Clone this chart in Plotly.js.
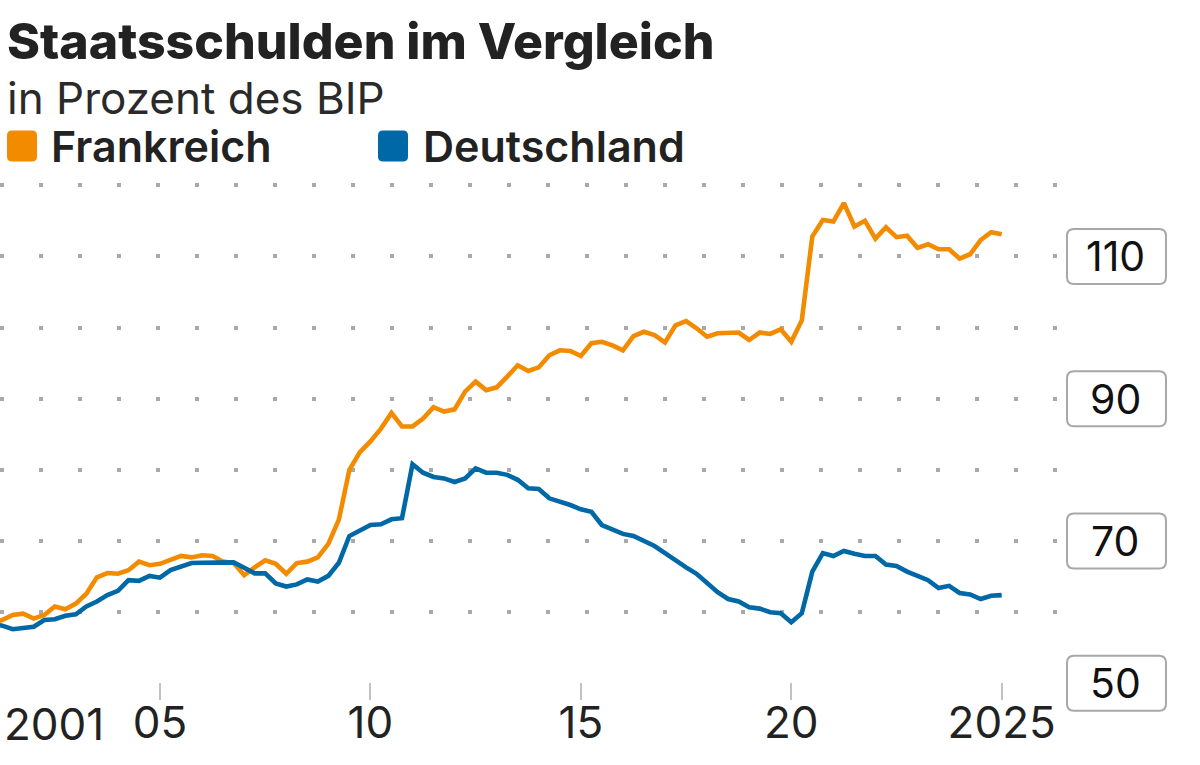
<!DOCTYPE html>
<html>
<head>
<meta charset="utf-8">
<script src="https://cdn.plot.ly/plotly-3.0.1.min.js"></script>
<style>
  html, body { margin: 0; padding: 0; background: #fff; }
  #chart { width: 1200px; height: 765px; }
</style>
</head>
<body>
<div id="chart"></div>
<script>
// ---- Data (quarterly, 2001 Q1 – 2025 Q1), government debt in % of GDP ----
const startYear = 2001;
const frankreich = [
  58.5, 58.9, 59.6, 59.8, 59.1, 59.6, 60.8, 60.4, 61.2, 62.6, 64.9, 65.5,
  65.4, 65.9, 67.1, 66.6, 66.8, 67.4, 67.9, 67.7, 68.0, 67.9, 67.1, 66.9,
  65.2, 66.3, 67.3, 66.8, 65.4, 66.9, 67.1, 67.7, 69.6, 73.0, 80.0, 82.5,
  84.0, 85.8, 88.0, 86.1, 86.1, 87.2, 88.8, 88.2, 88.5, 91.0, 92.4, 91.2,
  91.6, 93.1, 94.7, 93.9, 94.4, 96.1, 96.8, 96.7, 96.0, 97.8, 98.0, 97.5,
  96.8, 98.8, 99.4, 98.95, 97.9, 100.3, 100.9, 99.9, 98.7, 99.2, 99.2, 99.3,
  98.25, 99.3, 99.1, 99.75, 98.0, 101.0, 112.8, 115.1, 114.9, 117.5, 114.2, 115.0,
  112.5, 114.1, 112.7, 112.9, 111.2, 111.7, 111.0, 111.0, 109.7, 110.3, 112.3, 113.4,
  113.1
];
const deutschland = [
  58.4, 58.1, 57.6, 57.7, 57.95, 58.9, 59.0, 59.5, 59.7, 60.8, 61.5, 62.4,
  63.0, 64.5, 64.4, 65.1, 64.85, 65.9, 66.4, 66.9, 66.95, 67.0, 67.0, 67.0,
  66.25, 65.45, 65.45, 64.05, 63.6, 63.9, 64.6, 64.3, 65.1, 66.95, 70.7, 71.45,
  72.25, 72.35, 73.05, 73.2, 80.8, 79.6, 79.0, 78.8, 78.3, 78.8, 80.2, 79.6,
  79.6, 79.3, 78.6, 77.4, 77.3, 76.0, 75.6, 75.06, 74.45, 74.1, 72.25, 71.6,
  71.0, 70.7, 70.0, 69.3, 68.3, 67.2, 66.3, 65.4, 64.05, 62.8, 61.85, 61.5,
  60.7, 60.5, 60.0, 59.84, 58.6, 59.84, 65.7, 68.3, 67.9, 68.6, 68.2, 67.9,
  67.9, 66.7, 66.5, 65.7, 65.1, 64.5, 63.4, 63.7, 62.7, 62.5, 61.85, 62.3,
  62.4
];
// quarter positions on a decimal-year axis
const quarters = frankreich.map((_, i) => startYear + Math.floor(i / 4) + (i % 4) / 4);

const xTickVals = [2005, 2010, 2015, 2020, 2025];
const xTickText = ['05', '10', '15', '20', '2025'];
const firstYearLabel = '2001';
const yGridVals = [60, 70, 80, 90, 100, 110, 120];
const yLabelVals = [50, 70, 90, 110];

const titleText = 'Staatsschulden im Vergleich';
const subtitleText = 'in Prozent des BIP';
const seriesNames = ['Frankreich', 'Deutschland'];
const colors = { Frankreich: '#F28B00', Deutschland: '#0068A7' };

// ---- helpers ----
function roundRect(x0, y0, x1, y1, r) {
  return `M${x0 + r},${y0} L${x1 - r},${y0} Q${x1},${y0} ${x1},${y0 + r} ` +
         `L${x1},${y1 - r} Q${x1},${y1} ${x1 - r},${y1} L${x0 + r},${y1} ` +
         `Q${x0},${y1} ${x0},${y1 - r} L${x0},${y0 + r} Q${x0},${y0} ${x0 + r},${y0} Z`;
}

const FONT = 'Inter, "Noto Sans", sans-serif';

const traces = [
  { x: quarters, y: frankreich, name: 'Frankreich', type: 'scatter', mode: 'lines',
    line: { color: colors.Frankreich, width: 4.6 }, showlegend: false, hoverinfo: 'skip' },
  { x: quarters, y: deutschland, name: 'Deutschland', type: 'scatter', mode: 'lines',
    line: { color: colors.Deutschland, width: 4.6 }, showlegend: false, hoverinfo: 'skip' }
];

const plotTop = 170, plotBottom = 714;
const toPaperY = px => (plotBottom - px) / (plotBottom - plotTop);
const legendY = toPaperY(146);
const subtitleY = toPaperY(98);
const axisPos = toPaperY(700);

const shapes = [];
const annotations = [];

// y label boxes
yLabelVals.forEach(v => {
  shapes.push({
    type: 'path', xref: 'paper', yref: 'y', xsizemode: 'pixel', ysizemode: 'pixel',
    xanchor: 1, yanchor: v, path: roundRect(9, -27.5, 108, 27.5, 7),
    fillcolor: '#ffffff', line: { color: '#a8a8a8', width: 2 }, layer: 'above'
  });
  annotations.push({
    xref: 'paper', yref: 'y', x: 1, y: v, xshift: 57, xanchor: 'center', yanchor: 'middle',
    text: String(v), showarrow: false, font: { family: FONT, size: 41, color: '#111' }
  });
});

// subtitle
annotations.push({
  xref: 'paper', yref: 'paper', x: 0, y: subtitleY, xshift: 5, xanchor: 'left', yanchor: 'middle',
  text: subtitleText, showarrow: false, font: { family: FONT, size: 44, weight: 400, color: '#2a2a2a' }
});

// legend (rounded squares + labels)
const legendSquareX = { Frankreich: 7, Deutschland: 378 };
const legendTextX = { Frankreich: 49, Deutschland: 421 };
seriesNames.forEach(n => {
  const sx = legendSquareX[n];
  shapes.push({
    type: 'path', xref: 'paper', yref: 'paper', xsizemode: 'pixel', ysizemode: 'pixel',
    xanchor: 0, yanchor: legendY, path: roundRect(sx, -15.5, sx + 30, 15.5, 5),
    fillcolor: colors[n], line: { width: 0 }
  });
  annotations.push({
    xref: 'paper', yref: 'paper', x: 0, y: legendY, xshift: legendTextX[n], xanchor: 'left', yanchor: 'middle',
    text: n, showarrow: false, font: { family: FONT, size: 43, weight: 600, color: '#222' }
  });
});

// first-year label at the left edge
annotations.push({
  xref: 'paper', yref: 'paper', x: 0, y: axisPos, xshift: 2, yshift: 5, xanchor: 'left', yanchor: 'top',
  text: firstYearLabel, showarrow: false, font: { family: FONT, size: 44, color: '#222' }
});

const layout = {
  width: 1200, height: 765,
  margin: { l: 0, r: 142, t: plotTop, b: 765 - plotBottom, pad: 0 },
  paper_bgcolor: '#ffffff', plot_bgcolor: '#ffffff',
  font: { family: FONT, color: '#222' },
  title: {
    text: titleText,
    font: { family: FONT, size: 50, weight: 800, color: '#222' },
    xref: 'container', x: 7 / 1200, xanchor: 'left',
    yref: 'container', y: 1 - 24 / 765, yanchor: 'top'
  },
  showlegend: false,
  xaxis: {
    range: [2001.198, 2026.338],
    anchor: 'free', position: axisPos,
    tickvals: xTickVals, ticktext: xTickText,
    ticks: 'inside', ticklen: 17, tickwidth: 2, tickcolor: '#c2c2c2',
    ticklabelstandoff: -7,
    tickfont: { family: FONT, size: 44, color: '#222' },
    showgrid: false, zeroline: false, showline: false
  },
  yaxis: {
    range: [45.69, 122.14],
    tickvals: yGridVals, showticklabels: false, ticks: '',
    showgrid: true, gridcolor: '#a9a9a9', gridwidth: 4, griddash: '4px,35px',
    zeroline: false, showline: false
  },
  shapes: shapes,
  annotations: annotations,
  hovermode: false
};

Plotly.newPlot('chart', traces, layout, { staticPlot: true, displayModeBar: false });
</script>
</body>
</html>
